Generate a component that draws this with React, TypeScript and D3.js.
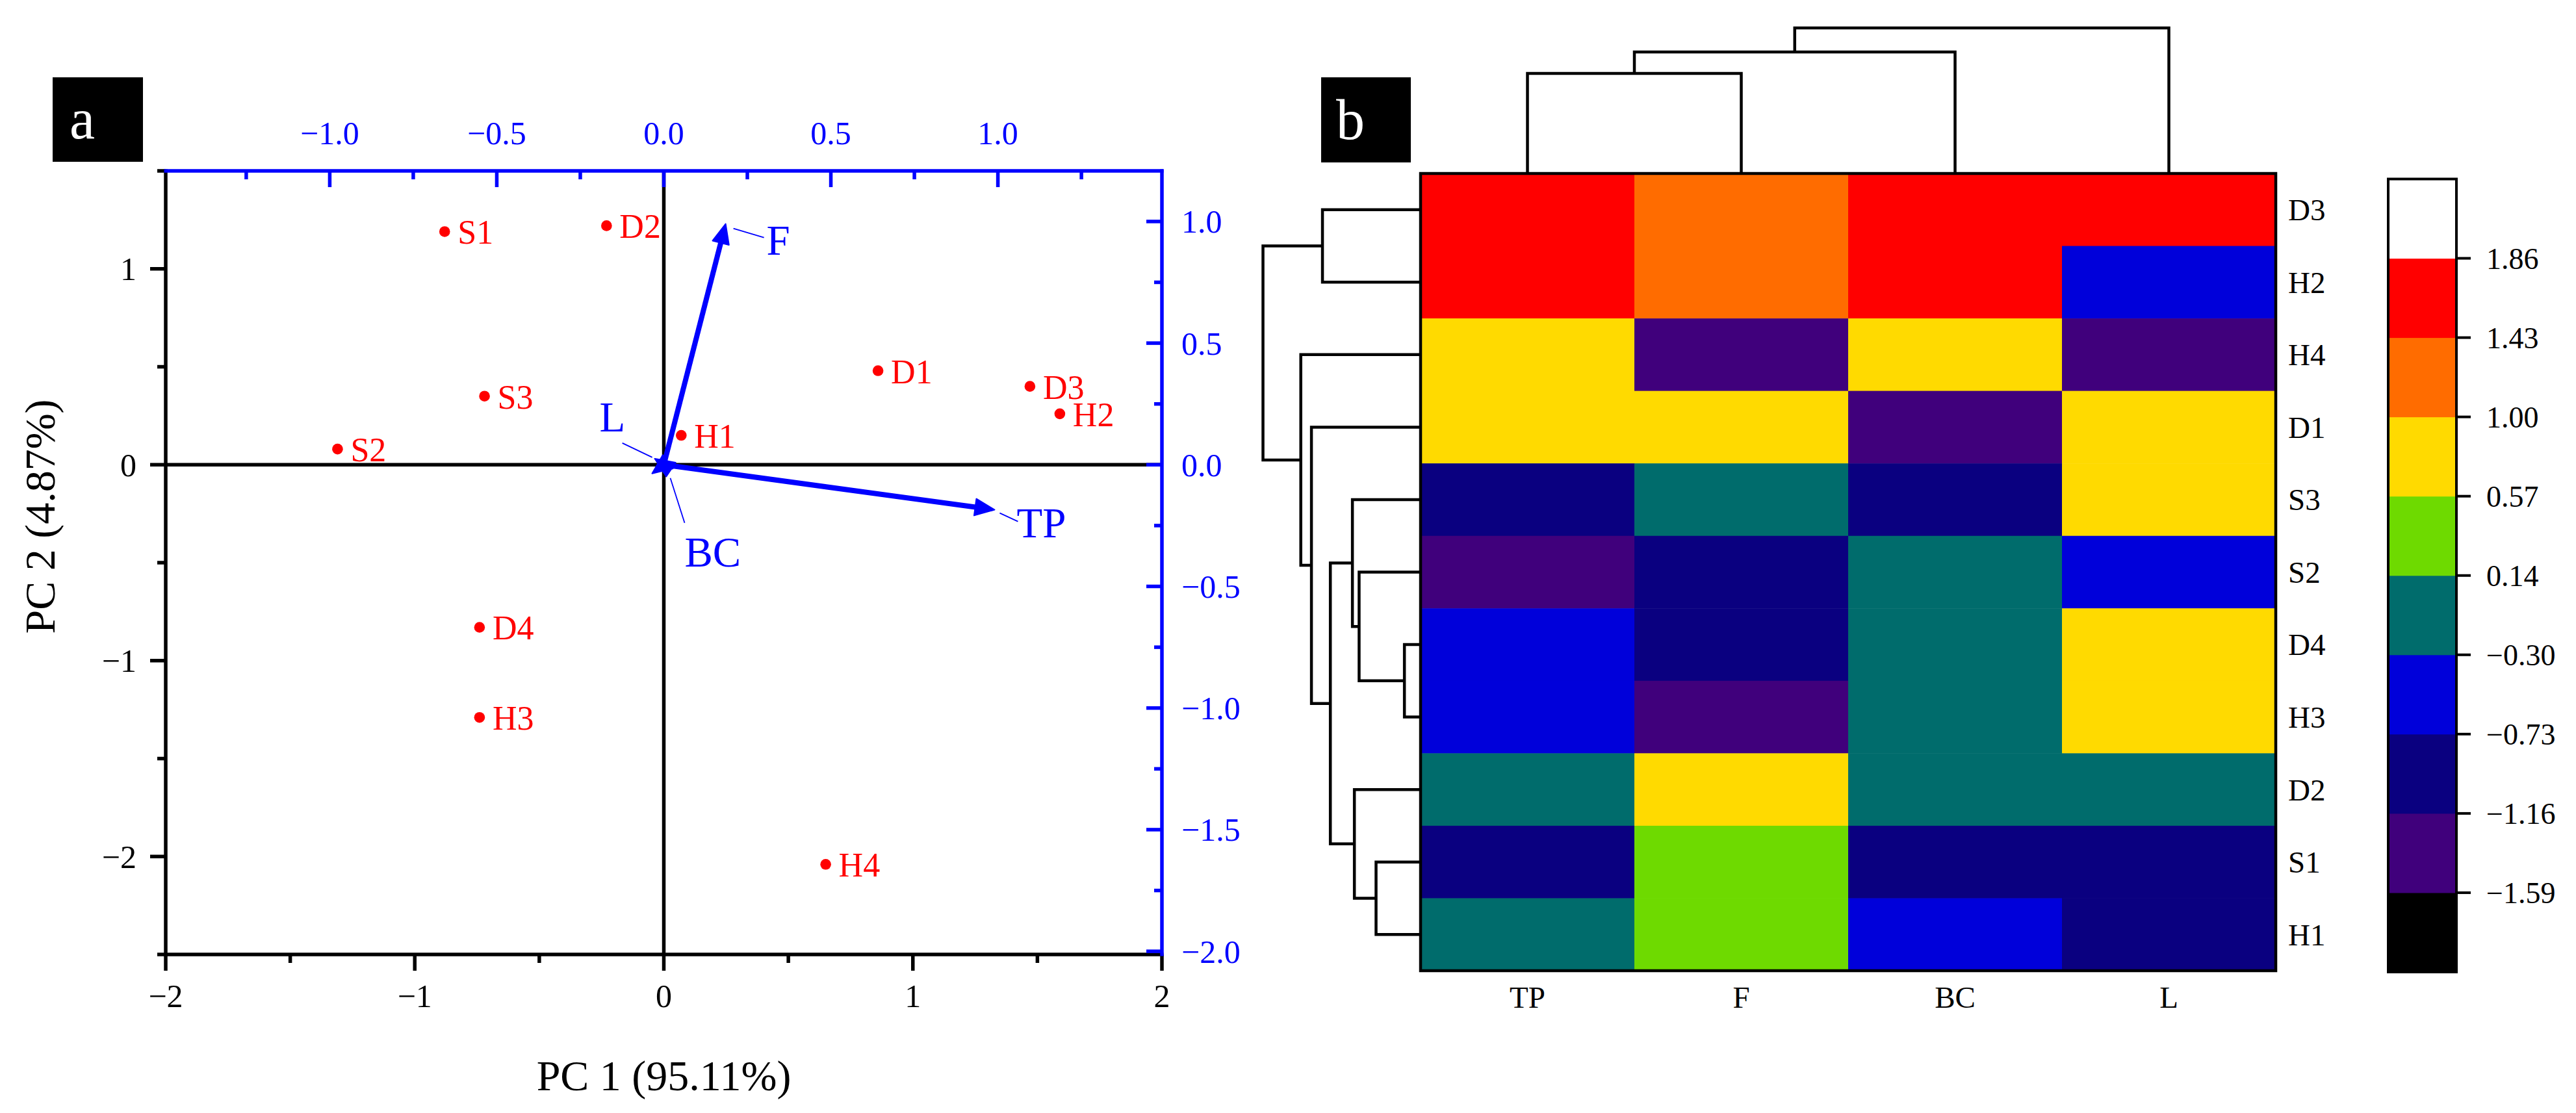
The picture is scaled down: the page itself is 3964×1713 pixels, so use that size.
import React from 'react';
import * as d3 from 'd3';

// ---------- Panel a: PCA biplot data ----------
const sampleNames = ['S1', 'D2', 'S3', 'S2', 'D4', 'H3', 'H1', 'D1', 'D3', 'H2', 'H4'];
const pc1Scores = [-0.88, -0.23, -0.72, -1.31, -0.74, -0.74, 0.07, 0.86, 1.47, 1.59, 0.65];
const pc2Scores = [1.19, 1.22, 0.35, 0.08, -0.83, -1.29, 0.15, 0.48, 0.40, 0.26, -2.04];

const loadingNames = ['TP', 'F', 'BC', 'L'];
const loading1 = [0.99, 0.185, -0.035, -0.027];
const loading2 = [-0.185, 0.99, -0.036, 0.025];

const pc1Ticks = [-2, -1, 0, 1, 2];
const pc2Ticks = [-2, -1, 0, 1];
const loadXTicks = [-1.0, -0.5, 0.0, 0.5, 1.0];
const loadYTicks = [-2.0, -1.5, -1.0, -0.5, 0.0, 0.5, 1.0];

// ---------- Panel b: heatmap data ----------
const heatRows = ['D3', 'H2', 'H4', 'D1', 'S3', 'S2', 'D4', 'H3', 'D2', 'S1', 'H1'];
const heatCols = ['TP', 'F', 'BC', 'L'];
const tpZ = [1.55, 1.68, 0.70, 0.92, -0.78, -1.42, -0.70, -0.71, -0.25, -0.95, 0.05];
const fZ = [1.25, 1.18, -1.35, 0.78, -0.05, -0.95, -0.85, -1.25, 0.85, 0.35, 0.45];
const bcZ = [1.60, 1.70, 0.80, -1.30, -0.90, -0.10, -0.20, 0.00, -0.15, -1.00, -0.55];
const lZ = [1.65, -0.50, -1.40, 0.80, 0.75, -0.45, 0.70, 0.85, -0.10, -1.05, -0.90];

const colorThresholds = [-1.59, -1.16, -0.73, -0.30, 0.14, 0.57, 1.00, 1.43, 1.86];
const colorLevels = ['#000000', '#40007C', '#0A0080', '#0000DA', '#006C6C', '#6EDA00', '#FFDA00', '#FF6C00', '#FF0000', '#FFFFFF'];

// linkage: [childA, childB, height]; leaves are 0..n-1, merge k gets id n+k
const rowMerges: [number, number, number][] = [
  [6, 7, 0.41],
  [5, 11, 1.56],
  [4, 12, 1.73],
  [9, 10, 1.13],
  [8, 14, 1.68],
  [13, 15, 2.29],
  [3, 16, 2.77],
  [2, 17, 3.04],
  [0, 1, 2.49],
  [19, 18, 4.0],
];
const colMerges: [number, number, number][] = [
  [0, 1, 2.75],
  [4, 2, 3.34],
  [5, 3, 4.0],
];

const SERIF = '"Liberation Serif","Times New Roman",Times,serif';
const BLUE = '#0000FF';
const RED = '#FF0000';

function dendroPaths(
  merges: [number, number, number][],
  nLeaves: number,
  leafPos: (i: number) => number,
  hScale: d3.ScaleLinear<number, number>,
  horizontal: boolean
) {
  const pos: number[] = [];
  const hgt: number[] = [];
  for (let i = 0; i < nLeaves; i++) {
    pos[i] = leafPos(i);
    hgt[i] = 0;
  }
  const paths: string[] = [];
  merges.forEach(([a, b, h], k) => {
    const id = nLeaves + k;
    pos[id] = (pos[a] + pos[b]) / 2;
    hgt[id] = h;
    const p = d3.path();
    if (horizontal) {
      p.moveTo(hScale(hgt[a]), pos[a]);
      p.lineTo(hScale(h), pos[a]);
      p.lineTo(hScale(h), pos[b]);
      p.lineTo(hScale(hgt[b]), pos[b]);
    } else {
      p.moveTo(pos[a], hScale(hgt[a]));
      p.lineTo(pos[a], hScale(h));
      p.lineTo(pos[b], hScale(h));
      p.lineTo(pos[b], hScale(hgt[b]));
    }
    paths.push(p.toString());
  });
  return paths;
}

export default function App() {
  // ---------- Panel a layout ----------
  const pa = { left: 255, right: 1788, top: 263, bottom: 1469 };
  const xS = d3.scaleLinear().domain([-2, 2]).range([pa.left, pa.right]);
  const yS = d3.scaleLinear().domain([-2.5, 1.5]).range([pa.bottom, pa.top]);
  const xL = d3.scaleLinear().domain([-1.491, 1.491]).range([pa.left, pa.right]);
  const yL = d3.scaleLinear().domain([-2.013, 1.208]).range([pa.bottom, pa.top]);
  const fInt = d3.format('d');
  const f1 = d3.format('.1f');
  const f2 = d3.format('.2f');
  const AW = 5.5;

  const leftAllTicks = d3.range(-2.5, 1.51, 0.5);
  const bottomAllTicks = d3.range(-2, 2.01, 0.5);
  const topAllTicks = d3.range(-1.25, 1.26, 0.25);
  const rightAllTicks = d3.range(-2.0, 1.01, 0.25);
  const isInt = (v: number) => Math.abs(v - Math.round(v)) < 1e-6;
  const isHalf = (v: number) => Math.abs(v * 2 - Math.round(v * 2)) < 1e-6;

  // loading label layout (px offsets relative to arrow tip)
  const leaderFrom = [[8, 5], [12, 7], [28, 7], [-4, -2]];
  const leaderTo = [[36, 18], [59, 21], [50, 76], [-50, -24]];
  const labelOff = [[34, 42], [63, 47], [50, 143], [-85, -42]];

  const ox = xL(0);
  const oy = yL(0);

  // ---------- Panel b layout ----------
  const hm = { left: 2186, right: 3502, top: 267, bottom: 1494 };
  const xB = d3.scaleBand().domain(heatCols).range([hm.left, hm.right]);
  const yB = d3.scaleBand().domain(heatRows).range([hm.top, hm.bottom]);
  const color = d3.scaleThreshold<number, string>().domain(colorThresholds).range(colorLevels);
  const heatValues = [tpZ, fZ, bcZ, lZ];

  const rowH = d3.scaleLinear().domain([0, 4.0]).range([hm.left, 1943.5]);
  const colH = d3.scaleLinear().domain([0, 4.0]).range([hm.top, 43]);
  const rowPaths = dendroPaths(rowMerges, heatRows.length, (i) => (yB(heatRows[i]) as number) + yB.bandwidth() / 2, rowH, true);
  const colPaths = dendroPaths(colMerges, heatCols.length, (i) => (xB(heatCols[i]) as number) + xB.bandwidth() / 2, colH, false);

  const cb = { left: 3675, right: 3780, top: 275.5, bottom: 1496 };
  const yC = d3.scaleBand<number>().domain(d3.range(colorLevels.length)).range([cb.bottom, cb.top]);

  return (
    <svg
      width={3964}
      height={1713}
      style={{ position: 'fixed', left: 0, top: 0, background: '#fff' }}
      fontFamily={SERIF}
    >
      <rect x={0} y={0} width={3964} height={1713} fill="#fff" />

      {/* ================= Panel a ================= */}
      <rect x={81} y={119} width={139} height={130} fill="#000" />
      <text x={107} y={213} fontSize={88} fill="#fff">a</text>

      {/* zero lines */}
      <line x1={pa.left} x2={pa.right} y1={yS(0)} y2={yS(0)} stroke="#000" strokeWidth={AW} />
      <line x1={xS(0)} x2={xS(0)} y1={pa.top} y2={pa.bottom} stroke="#000" strokeWidth={AW} />

      {/* left axis */}
      <line x1={pa.left} x2={pa.left} y1={pa.top - 2.5} y2={pa.bottom + 2.5} stroke="#000" strokeWidth={AW} />
      {leftAllTicks.map((v) => (
        <line key={'lt' + v} x1={pa.left} x2={pa.left - (isInt(v) ? 24 : 13)} y1={yS(v)} y2={yS(v)} stroke="#000" strokeWidth={AW} />
      ))}
      {pc2Ticks.map((v) => (
        <text key={'ll' + v} x={210} y={yS(v)} dy="0.35em" textAnchor="end" fontSize={50} fill="#000">{fInt(v)}</text>
      ))}

      {/* bottom axis */}
      <line x1={pa.left - 2.5} x2={pa.right + 2.5} y1={pa.bottom} y2={pa.bottom} stroke="#000" strokeWidth={AW} />
      {bottomAllTicks.map((v) => (
        <line key={'bt' + v} x1={xS(v)} x2={xS(v)} y1={pa.bottom} y2={pa.bottom + (isInt(v) ? 25 : 13)} stroke="#000" strokeWidth={AW} />
      ))}
      {pc1Ticks.map((v) => (
        <text key={'bl' + v} x={xS(v)} y={1550} textAnchor="middle" fontSize={50} fill="#000">{fInt(v)}</text>
      ))}

      {/* top axis (loadings) */}
      <line x1={pa.left - 2.5} x2={pa.right + 2.5} y1={pa.top} y2={pa.top} stroke={BLUE} strokeWidth={AW} />
      {topAllTicks.map((v) => (
        <line key={'tt' + v} x1={xL(v)} x2={xL(v)} y1={pa.top} y2={pa.top + (isHalf(v) ? 25 : 13)} stroke={BLUE} strokeWidth={AW} />
      ))}
      {loadXTicks.map((v) => (
        <text key={'tl' + v} x={xL(v)} y={222} textAnchor="middle" fontSize={50} fill={BLUE}>{f1(v)}</text>
      ))}

      {/* right axis (loadings) */}
      <line x1={pa.right} x2={pa.right} y1={pa.top - 2.5} y2={pa.bottom + 2.5} stroke={BLUE} strokeWidth={AW} />
      {rightAllTicks.map((v) => (
        <line key={'rt' + v} x1={pa.right} x2={pa.right - (isHalf(v) ? 24 : 12)} y1={yL(v)} y2={yL(v)} stroke={BLUE} strokeWidth={AW} />
      ))}
      {loadYTicks.map((v) => (
        <text key={'rl' + v} x={1818} y={yL(v)} dy="0.35em" textAnchor="start" fontSize={50} fill={BLUE}>{f1(v)}</text>
      ))}

      {/* axis titles */}
      <text x={(pa.left + pa.right) / 2} y={1678} textAnchor="middle" fontSize={66} fill="#000">PC 1 (95.11%)</text>
      <text transform={`translate(84,795) rotate(-90)`} textAnchor="middle" fontSize={66} fill="#000">PC 2 (4.87%)</text>

      {/* sample scores */}
      {sampleNames.map((n, i) => (
        <g key={'s' + n}>
          <circle cx={xS(pc1Scores[i])} cy={yS(pc2Scores[i])} r={8.3} fill={RED} />
          <text x={xS(pc1Scores[i]) + 20} y={yS(pc2Scores[i]) + 19} fontSize={52} fill={RED}>{n}</text>
        </g>
      ))}

      {/* loading arrows */}
      {loadingNames.map((n, i) => {
        const tx = xL(loading1[i]);
        const ty = yL(loading2[i]);
        const dx = tx - ox;
        const dy = ty - oy;
        const len = Math.hypot(dx, dy);
        const ux = dx / len;
        const uy = dy / len;
        const headL = 30;
        const headW = 13;
        const bx = tx - ux * headL;
        const by = ty - uy * headL;
        const head = `M${tx},${ty}L${bx - uy * headW},${by + ux * headW}L${bx + uy * headW},${by - ux * headW}Z`;
        return (
          <g key={'v' + n}>
            {len > headL && <line x1={ox} y1={oy} x2={bx + ux * 2} y2={by + uy * 2} stroke={BLUE} strokeWidth={8} />}
            <path d={head} fill={BLUE} stroke={BLUE} strokeWidth={2} strokeLinejoin="round" />
            <line
              x1={tx + leaderFrom[i][0]}
              y1={ty + leaderFrom[i][1]}
              x2={tx + leaderTo[i][0]}
              y2={ty + leaderTo[i][1]}
              stroke={BLUE}
              strokeWidth={1.8}
            />
            <text x={tx + labelOff[i][0]} y={ty + labelOff[i][1]} fontSize={65} fill={BLUE}>{n}</text>
          </g>
        );
      })}

      {/* ================= Panel b ================= */}
      <rect x={2033} y={119} width={138} height={131} fill="#000" />
      <text x={2056} y={214} fontSize={88} fill="#fff">b</text>

      {/* heatmap cells */}
      {heatCols.map((c, ci) =>
        heatRows.map((r, ri) => (
          <rect
            key={c + r}
            x={xB(c) as number}
            y={yB(r) as number}
            width={xB.bandwidth() + 0.5}
            height={yB.bandwidth() + 0.5}
            fill={color(heatValues[ci][ri])}
          />
        ))
      )}
      <rect x={hm.left} y={hm.top} width={hm.right - hm.left} height={hm.bottom - hm.top} fill="none" stroke="#000" strokeWidth={4.5} />

      {/* dendrograms */}
      {rowPaths.map((d, i) => (
        <path key={'rp' + i} d={d} fill="none" stroke="#000" strokeWidth={4.5} />
      ))}
      {colPaths.map((d, i) => (
        <path key={'cp' + i} d={d} fill="none" stroke="#000" strokeWidth={4.5} />
      ))}

      {/* labels */}
      {heatRows.map((r) => (
        <text key={'rl' + r} x={3521} y={(yB(r) as number) + yB.bandwidth() / 2} dy="0.35em" fontSize={47} fill="#000">{r}</text>
      ))}
      {heatCols.map((c) => (
        <text key={'cl' + c} x={(xB(c) as number) + xB.bandwidth() / 2} y={1551} textAnchor="middle" fontSize={47} fill="#000">{c}</text>
      ))}

      {/* color bar */}
      {colorLevels.map((col, i) => (
        <rect key={'cb' + i} x={cb.left} y={yC(i) as number} width={cb.right - cb.left} height={yC.bandwidth() + 0.5} fill={col} />
      ))}
      <rect x={cb.left} y={cb.top} width={cb.right - cb.left} height={cb.bottom - cb.top} fill="none" stroke="#000" strokeWidth={4} />
      {colorThresholds.map((t, i) => (
        <g key={'ct' + i}>
          <line x1={cb.right} x2={cb.right + 22} y1={yC(i) as number} y2={yC(i) as number} stroke="#000" strokeWidth={4} />
          <text x={3826} y={yC(i) as number} dy="0.35em" fontSize={46} fill="#000">{f2(t)}</text>
        </g>
      ))}
    </svg>
  );
}
